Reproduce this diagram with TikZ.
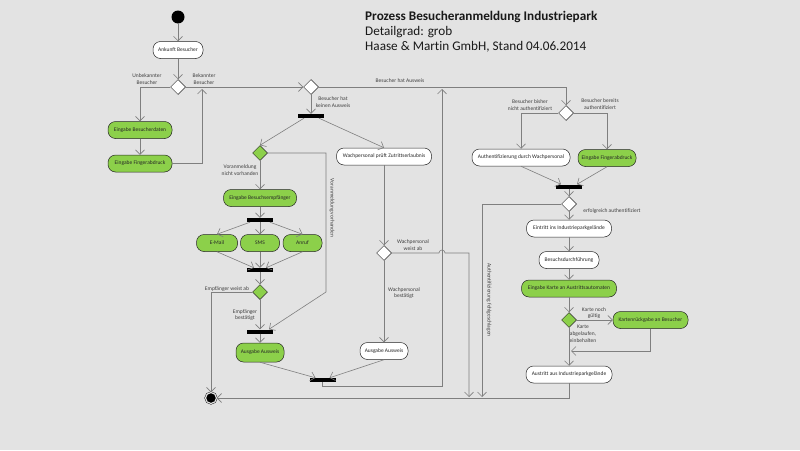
\documentclass[tikz,border=0pt]{standalone}
\usepackage{fontspec}
\setmainfont{Carlito}[Ligatures=NoCommon]
\usepackage{tikz}
\usetikzlibrary{arrows.meta,positioning,shapes}
\definecolor{bg}{HTML}{E3E3E3}
\definecolor{act}{HTML}{8CD04A}
\definecolor{wire}{HTML}{7F7F7F}
\newcommand{\tinytext}{\fontsize{5.5}{6.8}\selectfont}
\tikzset{
    %Define standard arrow tip
    >={Straight Barb[length=4.5pt,width=9pt]},
    %Define style for activities
    activity/.style={
   	rectangle,
   	rounded corners=7.5pt,
   	draw=black!85, line width=0.5pt,
   	minimum height=17pt,
   	inner xsep=2pt, inner ysep=1pt,
   	font=\tinytext,
   	text=black!85,
   	text centered,
   	fill=white
   },
   input/.style={activity, fill=act},
   branch/.style={
   	diamond,
   	draw=black!85, line width=0.5pt,
   	minimum width=15pt,
   	minimum height=15pt,
   	inner sep=0pt,
   	fill=white
   },
   gbranch/.style={branch, fill=act},
   sync/.style={rectangle, fill=black, minimum width=26pt, minimum height=4pt, inner sep=0pt},
   initial/.style={circle, fill=black, minimum size=13pt, inner sep=0pt},
   final/.style={circle, draw=black, fill=black, minimum size=11pt, inner sep=0pt,
   	double=bg, double distance=1.2pt},
    % Define arrow style
    flow/.style={draw=wire, line width=0.6pt},
    guard/.style={font=\tinytext, align=center, text=black!75, inner sep=0pt}
}
\begin{document}
\begin{tikzpicture}[x=1pt,y=-1pt]
		\fill[bg] (0,0) rectangle (800,450);
		\useasboundingbox (0,0) rectangle (800,450);
		\node[anchor=north west, align=left, inner sep=0pt, text=black!90,
			font=\fontsize{13.2}{15}\selectfont](0) at (365,11.5)
			{\textbf{Prozess Besucheranmeldung Industriepark}\\Detailgrad: grob\\Haase \& Martin GmbH, Stand 04.06.2014};
		% left part
		\node[initial](1) at (178,17){};
		\node[activity, minimum width=50pt](2) at (178,50){Ankunft Besucher};
		\node[branch](3) at (178,87){};
		\node[input, minimum width=64pt](4) at (140,130){Eingabe Besucherdaten};
		\node[input, minimum width=64pt, below=16pt of 4](5){Eingabe Fingerabdruck};
		\node[branch](6) at (311,87){};
		\node[sync](7) at (311,116){};
		% no pass
		\node[gbranch](8) at (260,153){};
		\node[activity, minimum width=95pt](9) at (384,156.5){Wachpersonal prüft Zutrittserlaubnis};
		\node[input, minimum width=73pt](10) at (260,198){Eingabe Besuchsempfänger};
		\node[sync](11) at (260,220){};
		\node[input, minimum width=41pt](12) at (217,243){E-Mail};
		\node[input, minimum width=39pt](13) at (260,243){SMS};
		\node[input, minimum width=39pt](14) at (302.5,243){Anruf};
		\node[sync](15) at (260,270){};
		\node[gbranch](16) at (260,292){};
		\node[sync](17) at (260,331.5){};
		\node[input, minimum width=48pt, minimum height=19pt](18) at (260,352.5){Ausgabe Ausweis};
		\node[branch](19) at (384,253){};
		\node[activity, minimum width=48pt](20) at (384,351){Ausgabe Ausweis};
		\node[sync](21) at (322.5,380){};
		\node[final](22) at (211,398){};
		% right part
		\node[branch](23) at (566,113){};
		\node[activity, minimum width=98pt](24) at (521,157.5){Authentifizierung durch Wachpersonal};
		\node[input, minimum width=58pt](25) at (607,158){Eingabe Fingerabdruck};
		\node[sync](26) at (569,186.5){};
		\node[branch](27) at (569,204){};
		\node[activity, minimum width=85pt](28) at (569,228.5){Eintritt ins Industrieparkgelände};
		\node[activity, minimum width=60pt, below=14pt of 28](29){Besuchsdurchführung};
		\node[input, minimum width=95pt, below=11pt of 29](30){Eingabe Karte an Austrittsautomaten};
		\node[gbranch](31) at (569,320){};
		\node[input, minimum width=75pt](32) at (650.5,320){Kartenrückgabe an Besucher};
		\node[activity, minimum width=86pt](33) at (569,374.5){Austritt aus Industrieparkgelände};
		% free ends
		\coordinate (c1) at (202,89);
		\coordinate (c2) at (326,292);
		\coordinate (c3) at (442,386);
		\coordinate (c4) at (442,89);
		\coordinate (c5) at (469,397);
		\coordinate (c6) at (482,397);
		\coordinate (c7) at (571,351);
		% guards
		\node[guard](l1) at (147,79){Unbekannter\\Besucher};
		\node[guard](l2) at (204,79){Bekannter\\Besucher};
		\node[guard](l3) at (400,81){Besucher hat Ausweis};
		\node[guard](l4) at (333,102){Besucher hat\\keinen Ausweis};
		\node[guard](l5) at (240,170){Voranmeldung\\nicht vorhanden};
		\node[guard, rotate=-90](l6) at (332,208){Voranmeldung vorhanden};
		\node[guard](l7) at (227,289){Empfänger weist ab};
		\node[guard](l8) at (245,315){Empfänger\\bestätigt};
		\node[guard](l9) at (413,245){Wachpersonal\\weist ab};
		\node[guard](l10) at (404,293){Wachpersonal\\bestätigt};
		\node[guard](l11) at (530,105){Besucher bisher\\nicht authentifiziert};
		\node[guard](l12) at (600,104){Besucher bereits\\authentifiziert};
		\node[guard](l13) at (612,211){erfolgreich authentifiziert};
		\node[guard, rotate=-90](l14) at (489,300){Authentifizierung fehlgeschlagen};
		\node[guard](l15) at (594,313){Karte noch\\gültig};
		\node[guard](l16) at (583,334){Karte\\abgelaufen,\\einbehalten};
		% connectors
		\path[->, every edge/.style={draw, flow}]
		(1) edge (2)
		(2) edge (3)
		(4) edge (5)
		(3) edge (6)
		(6) edge (7)
		(8) edge (10)
		(10) edge (11)
		(11) edge (13)
		(13) edge (15)
		(15) edge (16)
		(16) edge (17)
		(17) edge (18)
		(9) edge (19)
		(19) edge (20)
		(26) edge (27)
		(27) edge (28)
		(28) edge (29)
		(29) edge (30)
		(30) edge (31)
		(31) edge (32)
		(31) edge (33);
		\draw[flow, ->] (3) -| (4);
		\draw[flow, ->] (5) -| (c1);
		\draw[flow, ->] (6) -| (23);
		\draw[flow, ->] ([xshift=-7pt]7.south) -- (8.north);
		\draw[flow, ->] ([xshift=8pt]7.south) -- (9.north);
		\draw[flow, ->] (8) -| (c2) -- ([xshift=9pt]17.north);
		\draw[flow, ->] ([xshift=-10pt]11.south) -- (12.north);
		\draw[flow, ->] ([xshift=10pt]11.south) -- (14.north);
		\draw[flow, ->] (12.south) -- ([xshift=-6pt]15.north);
		\draw[flow, ->] (14.south) -- ([xshift=6pt]15.north);
		\draw[flow, ->] (16) -| (22);
		\draw[flow, ->] (18.south) -- ([xshift=-7pt]21.north);
		\draw[flow, ->] (20.south) -- ([xshift=7pt]21.north);
		\draw[flow, ->] (21.south) |- (c3) -- (c4);
		\draw[flow, ->] (19) -- ([xshift=-3pt]c3 |- 19) arc[start angle=180, end angle=0, radius=3pt] -| (c5);
		\draw[flow, ->] (23) -| (24);
		\draw[flow, ->] (23) -| (25);
		\draw[flow, ->] (24.south) -- ([xshift=-8pt]26.north);
		\draw[flow, ->] (25.south) -- ([xshift=8pt]26.north);
		\draw[flow, ->] (27) -| (c6);
		\draw[flow, ->] (32) |- (c7);
		\draw[flow, ->] (33) |- (22);
		\end{tikzpicture}
\end{document}
